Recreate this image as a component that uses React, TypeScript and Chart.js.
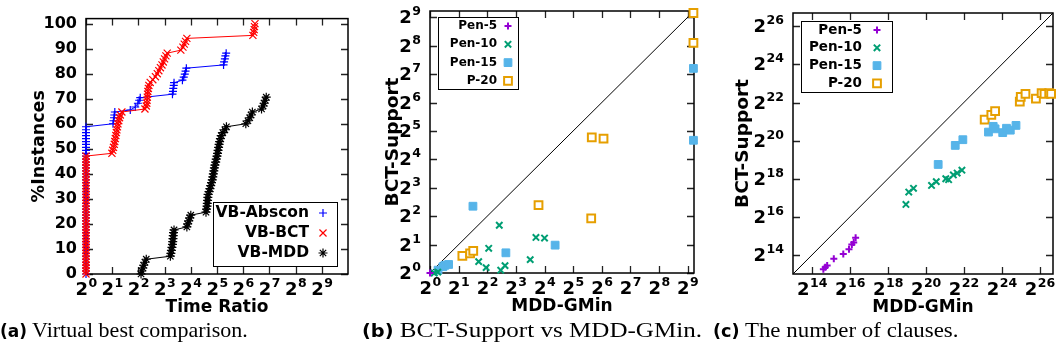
import React, { useEffect, useRef } from 'react';
import { Chart, registerables } from 'chart.js';
import { drawPoint } from 'chart.js/helpers';

Chart.register(...registerables);

// ---------- DATA (exponents are log2 values) ----------
// Panel (a): x = log2(time ratio), y = % instances
const vbAbscon: [number, number][] = [
  [0, 0], [0, 1.2], [0, 2.4], [0, 3.5], [0, 4.7], [0, 5.9], [0, 7.1], [0, 8.2], [0, 9.4], [0, 10.6],
  [0, 11.8], [0, 12.9], [0, 14.1], [0, 15.3], [0, 16.5], [0, 17.6], [0, 18.8], [0, 20], [0, 21.2], [0, 22.4],
  [0, 23.5], [0, 24.7], [0, 25.9], [0, 27.1], [0, 28.2], [0, 29.4], [0, 30.6], [0, 31.8], [0, 32.9], [0, 34.1],
  [0, 35.3], [0, 36.5], [0, 37.6], [0, 38.8], [0, 40], [0, 41.2], [0, 42.4], [0, 43.5], [0, 44.7], [0, 45.9],
  [0, 47.1], [0, 48.2], [0, 49.4], [0, 50.6], [0, 51.8], [0, 52.9], [0, 54.1], [0, 55.3], [0, 56.5], [0, 57.6],
  [0, 58.8], [1.03, 60.0], [1.05, 61.2], [1.07, 62.4], [1.08, 63.5], [1.1, 64.7], [1.69, 65.5], [1.88, 66.7],
  [1.98, 68.2], [2.03, 69.4], [2.07, 70.4], [3.3, 71.8], [3.32, 72.9], [3.33, 74.1], [3.35, 75.3], [3.36, 76.4],
  [3.68, 77.4], [3.73, 78.6], [3.77, 79.8], [3.8, 81.0], [3.83, 82.2], [5.25, 83.5], [5.27, 84.7], [5.3, 85.9],
  [5.32, 87.1], [5.35, 88.2],
];
const vbBct: [number, number][] = [
  [0, 0], [0, 1.2], [0, 2.4], [0, 3.5], [0, 4.7], [0, 5.9], [0, 7.1], [0, 8.2], [0, 9.4], [0, 10.6],
  [0, 11.8], [0, 12.9], [0, 14.1], [0, 15.3], [0, 16.5], [0, 17.6], [0, 18.8], [0, 20], [0, 21.2], [0, 22.4],
  [0, 23.5], [0, 24.7], [0, 25.9], [0, 27.1], [0, 28.2], [0, 29.4], [0, 30.6], [0, 31.8], [0, 32.9], [0, 34.1],
  [0, 35.3], [0, 36.5], [0, 37.6], [0, 38.8], [0, 40], [0, 41.2], [0, 42.4], [0, 43.5], [0, 44.7], [0, 45.9],
  [0, 47.1], [0.99, 48.2], [1.02, 49.4], [1.05, 50.6], [1.08, 51.8], [1.1, 52.9], [1.12, 54.1], [1.14, 55.3],
  [1.16, 56.5], [1.18, 57.6], [1.2, 58.8], [1.22, 60], [1.25, 61.2], [1.28, 62.4], [1.31, 63.5], [1.37, 64.7],
  [2.25, 65.9], [2.3, 67.1], [2.32, 68.2], [2.33, 69.4], [2.34, 70.6], [2.35, 71.8], [2.36, 72.9], [2.38, 74.1],
  [2.4, 75.3], [2.45, 76.5], [2.55, 77.6], [2.65, 78.8], [2.72, 80], [2.78, 81.2], [2.84, 82.4], [2.9, 83.5],
  [2.95, 84.7], [3.0, 85.9], [3.05, 87.1], [3.1, 88.2], [3.62, 89.4], [3.7, 90.6], [3.75, 91.8], [3.8, 92.9],
  [3.85, 94.1], [6.37, 95.3], [6.4, 96.5], [6.42, 97.6], [6.43, 98.8], [6.45, 100],
];
const vbMdd: [number, number][] = [
  [2.1, 0], [2.13, 1.2], [2.17, 2.4], [2.2, 3.5], [2.25, 4.7], [2.3, 5.9], [3.22, 7.1], [3.24, 8.2], [3.26, 9.4],
  [3.28, 10.6], [3.3, 11.8], [3.31, 12.9], [3.32, 14.1], [3.33, 15.3], [3.34, 16.5], [3.36, 17.6], [3.85, 18.8],
  [3.88, 20], [3.92, 21.2], [3.96, 22.4], [4.0, 23.5], [4.58, 24.7], [4.6, 25.9], [4.62, 27.1], [4.63, 28.2],
  [4.64, 29.4], [4.65, 30.6], [4.66, 31.8], [4.7, 32.9], [4.73, 34.1], [4.76, 35.3], [4.79, 36.5], [4.82, 37.6],
  [4.84, 38.8], [4.86, 40], [4.88, 41.2], [4.9, 42.4], [4.92, 43.5], [4.95, 44.7], [4.97, 45.9], [5.0, 47.1],
  [5.02, 48.2], [5.04, 49.4], [5.06, 50.6], [5.08, 51.8], [5.1, 52.9], [5.13, 54.1], [5.16, 55.3], [5.22, 56.5],
  [5.3, 57.6], [5.36, 58.8], [6.1, 60], [6.18, 61.2], [6.25, 62.4], [6.3, 63.5], [6.35, 64.7], [6.7, 65.9],
  [6.76, 67.1], [6.8, 68.2], [6.84, 69.4], [6.88, 70.6],
];

// Panel (b): log2(MDD-GMin time) vs log2(BCT-Support time)
const gminPen5: [number, number][] = [[0, 0]];
const gminPen10: [number, number][] = [
  [0.15, 0.0], [0.27, 0.03], [1.7, 0.4], [1.96, 0.19], [2.05, 0.87], [2.42, 1.68], [2.47, 0.1], [2.62, 0.26],
  [3.5, 0.47], [3.7, 1.25], [4.0, 1.23],
];
const gminPen15: [number, number][] = [
  [0.28, 0.1], [0.45, 0.22], [0.52, 0.27], [0.65, 0.3], [1.5, 2.35], [2.65, 0.71], [4.37, 0.98], [9.2, 7.2], [9.2, 4.67],
];
const gminP20: [number, number][] = [
  [1.13, 0.6], [1.4, 0.69], [1.51, 0.78], [3.79, 2.39], [5.65, 4.77], [6.06, 4.73], [5.63, 1.92], [9.2, 9.15], [9.2, 8.1],
];

// Panel (c): log2(#clauses MDD-GMin) vs log2(#clauses BCT-Support)
const clausePen5: [number, number][] = [
  [14.6, 13.25], [14.7, 13.35], [14.8, 13.45], [15.15, 13.8], [15.65, 14.05], [15.95, 14.3], [16.1, 14.55],
  [16.2, 14.65], [16.3, 14.9],
];
const clausePen10: [number, number][] = [
  [18.95, 16.65], [19.1, 17.3], [19.35, 17.5], [20.3, 17.65], [20.55, 17.85], [21.05, 18.0], [21.2, 17.95],
  [21.45, 18.2], [21.65, 18.3], [21.9, 18.45],
];
const clausePen15: [number, number][] = [
  [20.65, 18.75], [21.55, 19.75], [21.95, 20.05], [23.3, 20.45], [23.55, 20.75], [23.65, 20.62], [24.05, 20.42],
  [24.25, 20.65], [24.45, 20.55], [24.75, 20.8],
];
const clauseP20: [number, number][] = [
  [23.1, 21.1], [23.45, 21.35], [23.65, 21.55], [24.95, 22.05], [25.0, 22.3], [25.25, 22.45], [25.8, 22.2],
  [26.1, 22.5], [26.25, 22.45], [26.5, 22.5], [26.6, 22.45],
];

// Tick values (exponents of 2, or percentages)
const timeRatioTicks = [0, 1, 2, 3, 4, 5, 6, 7, 8, 9];
const percentTicks = [0, 10, 20, 30, 40, 50, 60, 70, 80, 90, 100];
const gminTicks = [0, 1, 2, 3, 4, 5, 6, 7, 8, 9];
const clauseTicks = [14, 16, 18, 20, 22, 24, 26];

const gminRange = [0, 9.22];
const clauseRange = [13, 26.7];

// ---------- helpers ----------
const toPts = (arr: [number, number][]) => arr.map(([x, y]) => ({ x, y }));
const FAMILY = '"DejaVu Sans", sans-serif';

const framePlugin = {
  id: 'frame',
  beforeDatasetsDraw(chart: any) {
    const { ctx, chartArea: a, scales } = chart;
    const len = 7;
    ctx.save();
    ctx.strokeStyle = '#222';
    ctx.lineWidth = 1.3;
    ctx.beginPath();
    scales.x.ticks.forEach((t: any) => {
      const px = Math.round(scales.x.getPixelForValue(t.value)) + 0.5;
      ctx.moveTo(px, a.bottom);
      ctx.lineTo(px, a.bottom - len);
      ctx.moveTo(px, a.top);
      ctx.lineTo(px, a.top + len);
    });
    scales.y.ticks.forEach((t: any) => {
      const py = Math.round(scales.y.getPixelForValue(t.value)) + 0.5;
      ctx.moveTo(a.left, py);
      ctx.lineTo(a.left + len, py);
      ctx.moveTo(a.right, py);
      ctx.lineTo(a.right - len, py);
    });
    ctx.stroke();
    ctx.strokeStyle = '#000';
    ctx.lineWidth = 1.5;
    ctx.strokeRect(a.left, a.top, a.width, a.height);
    ctx.restore();
  },
};

// Tick labels of the form 2^n, drawn as base "2" plus a raised exponent
const supTickPlugin = {
  id: 'supTicks',
  afterDraw(chart: any, _args: any, opts: any) {
    if (!opts || !opts.axes) return;
    const { ctx, chartArea: a, scales } = chart;
    const baseFont = `bold ${opts.base}px ${FAMILY}`;
    const supFont = `bold ${opts.sup}px ${FAMILY}`;
    ctx.save();
    ctx.fillStyle = '#000';
    ctx.textBaseline = 'alphabetic';
    ctx.textAlign = 'left';
    const widths = (e: string) => {
      ctx.font = baseFont;
      const w1 = ctx.measureText('2').width;
      ctx.font = supFont;
      const w2 = ctx.measureText(e).width;
      return [w1, w2];
    };
    const draw = (e: string, left: number, baseY: number, w1: number) => {
      ctx.font = baseFont;
      ctx.fillText('2', left, baseY);
      ctx.font = supFont;
      ctx.fillText(e, left + w1 + 0.5, baseY - opts.raise);
    };
    if (opts.axes.includes('x')) {
      scales.x.ticks.forEach((t: any) => {
        const e = String(t.value);
        const [w1, w2] = widths(e);
        const px = scales.x.getPixelForValue(t.value);
        draw(e, px - (w1 + w2) / 2, a.bottom + opts.xBase, w1);
      });
    }
    if (opts.axes.includes('y')) {
      scales.y.ticks.forEach((t: any) => {
        const e = String(t.value);
        const [w1, w2] = widths(e);
        const py = scales.y.getPixelForValue(t.value);
        draw(e, a.left - opts.yGap - (w1 + w2 + 0.5), py + opts.yBase, w1);
      });
    }
    ctx.restore();
  },
};

const boxLegendPlugin = {
  id: 'boxLegend',
  afterDraw(chart: any, _args: any, opts: any) {
    if (!opts || !opts.box) return;
    const ctx = chart.ctx;
    const [bx, by, bw, bh] = opts.box;
    ctx.save();
    ctx.fillStyle = '#fff';
    ctx.fillRect(bx, by, bw, bh);
    ctx.strokeStyle = '#000';
    ctx.lineWidth = 1;
    ctx.strokeRect(bx + 0.5, by + 0.5, bw, bh);
    ctx.font = opts.font;
    ctx.textAlign = 'right';
    ctx.textBaseline = 'middle';
    opts.items.forEach((di: number, i: number) => {
      const ds = chart.data.datasets[di];
      const y = opts.firstRow + i * opts.rowH;
      ctx.fillStyle = '#000';
      ctx.fillText(ds.label, opts.textRight, y);
      ctx.fillStyle = ds.pointBackgroundColor;
      ctx.strokeStyle = ds.pointBorderColor;
      ctx.lineWidth = ds.pointBorderWidth;
      drawPoint(ctx, { pointStyle: ds.pointStyle, radius: ds.pointRadius, borderWidth: ds.pointBorderWidth, rotation: 0 } as any, opts.markerX, y);
    });
    ctx.restore();
  },
};

function series(label: string, data: [number, number][], color: string, style: string, radius: number, bw: number, extra: any = {}) {
  return {
    label,
    data: toPts(data),
    pointStyle: style,
    pointRadius: radius,
    pointBorderWidth: bw,
    pointBorderColor: color,
    pointBackgroundColor: color,
    borderColor: color,
    backgroundColor: color,
    showLine: false,
    clip: false,
    ...extra,
  };
}

function axis(opts: {
  min: number; max: number; ticks: number[]; title: string; showLabels: boolean;
  pad: number; titlePad: any; fit: (s: any) => void; tickFont: number; titleFont: number;
}) {
  return {
    type: 'linear',
    min: opts.min,
    max: opts.max,
    afterBuildTicks: (s: any) => {
      s.ticks = opts.ticks.map((v) => ({ value: v }));
    },
    afterFit: opts.fit,
    ticks: {
      display: opts.showLabels,
      callback: (v: any) => String(v),
      font: { family: FAMILY, weight: 'bold', size: opts.tickFont },
      color: '#000',
      padding: opts.pad,
      maxRotation: 0,
      autoSkip: false,
    },
    grid: { display: false, drawTicks: false },
    border: { display: false },
    title: {
      display: true,
      text: opts.title,
      color: '#000',
      font: { family: FAMILY, weight: 'bold', size: opts.titleFont },
      padding: opts.titlePad,
    },
  };
}

function ChartCanvas({ config, width, height, left }: { config: any; width: number; height: number; left: number }) {
  const ref = useRef<HTMLCanvasElement>(null);
  useEffect(() => {
    if (!ref.current) return;
    const chart = new Chart(ref.current, config);
    return () => chart.destroy();
  }, []);
  return (
    <canvas
      ref={ref}
      width={width}
      height={height}
      style={{ position: 'absolute', left, top: 0, width, height }}
    />
  );
}

const baseOptions = {
  animation: false,
  responsive: false,
  devicePixelRatio: 1,
  events: [],
};

const supOpts = { base: 18, sup: 12.5, raise: 8, xBase: 21, yGap: 9, yBase: 6 };

const configA = {
  type: 'scatter',
  data: {
    datasets: [
      series('VB-Abscon', vbAbscon, '#0000ff', 'cross', 4, 1.2, { showLine: true, borderWidth: 1, order: 2 }),
      series('VB-BCT', vbBct, '#ff0000', 'crossRot', 5, 1.2, { showLine: true, borderWidth: 1, order: 1 }),
      series('VB-MDD', vbMdd, '#000000', 'star', 4.5, 1.2, { showLine: true, borderWidth: 1, order: 0 }),
    ],
  },
  options: {
    ...baseOptions,
    layout: { padding: { left: 0, top: 13, right: 12, bottom: 2 } },
    plugins: {
      legend: { display: false },
      tooltip: { enabled: false },
      supTicks: { ...supOpts, axes: ['x'] },
      boxLegend: {
        box: [213, 202, 124, 64], textRight: 309, markerX: 323, firstRow: 213, rowH: 20,
        font: `bold 15.5px ${FAMILY}`, items: [0, 1, 2],
      },
    },
    scales: {
      x: axis({
        min: 0, max: 10, ticks: timeRatioTicks, title: 'Time Ratio', showLabels: false, pad: 4,
        titlePad: { top: 0, bottom: 0 }, fit: (s: any) => { s.height = 44; }, tickFont: 16, titleFont: 17,
      }),
      y: axis({
        min: 0, max: 102, ticks: percentTicks, title: '%Instances', showLabels: true, pad: 9,
        titlePad: { top: 29, bottom: 0 }, fit: (s: any) => { s.width = 86; }, tickFont: 16, titleFont: 17.5,
      }),
    },
  },
  plugins: [framePlugin, supTickPlugin, boxLegendPlugin],
};

function scatterConfig(
  d5: [number, number][], d10: [number, number][], d15: [number, number][], d20: [number, number][],
  range: number[], ticks: number[], yAxisWidth: number, pad: any, legend: any, titleTop: number,
) {
  return {
    type: 'scatter',
    data: {
      datasets: [
        series('Pen-5', d5, '#9400d3', 'cross', 3.5, 2),
        series('Pen-10', d10, '#009e73', 'crossRot', 4.5, 2),
        series('Pen-15', d15, '#56b4e9', 'rect', 5.5, 1),
        series('P-20', d20, '#e69f00', 'rect', 5.5, 2, { pointBackgroundColor: '#ffffff' }),
        {
          label: 'diag',
          data: [{ x: range[0], y: range[0] }, { x: range[1], y: range[1] }],
          showLine: true,
          borderColor: '#000',
          borderWidth: 1,
          pointRadius: 0,
          order: 10,
        },
      ],
    },
    options: {
      ...baseOptions,
      layout: { padding: pad },
      plugins: {
        legend: { display: false },
        tooltip: { enabled: false },
        supTicks: { ...supOpts, axes: ['x', 'y'] },
        boxLegend: legend,
      },
      scales: {
        x: axis({
          min: range[0], max: range[1], ticks, title: 'MDD-GMin', showLabels: false, pad: 4,
          titlePad: { top: 0, bottom: 0 }, fit: (s: any) => { s.height = 44; }, tickFont: 16, titleFont: 17,
        }),
        y: axis({
          min: range[0], max: range[1], ticks, title: 'BCT-Support', showLabels: false, pad: 9,
          titlePad: { top: titleTop, bottom: 0 }, fit: (s: any) => { s.width = yAxisWidth; }, tickFont: 16, titleFont: 18.5,
        }),
      },
    },
    plugins: [framePlugin, supTickPlugin, boxLegendPlugin],
  };
}

const configB = scatterConfig(
  gminPen5, gminPen10, gminPen15, gminP20, gminRange, gminTicks, 70,
  { left: 0, top: 11, right: 11, bottom: 3 },
  { box: [78, 17, 80, 72], textRight: 137, markerX: 148, firstRow: 26, rowH: 18.3, font: `bold 12px ${FAMILY}`, items: [0, 1, 2, 3] },
  22,
);
const configC = scatterConfig(
  clausePen5, clausePen10, clausePen15, clauseP20, clauseRange, clauseTicks, 83,
  { left: 0, top: 13, right: 9, bottom: 2 },
  { box: [91, 21, 91, 71], textRight: 152, markerX: 167, firstRow: 30, rowH: 17.8, font: `bold 13.5px ${FAMILY}`, items: [0, 1, 2, 3] },
  22,
);

const capStyle: React.CSSProperties = {
  position: 'absolute',
  top: 318,
  fontFamily: '"Liberation Serif", serif',
  fontSize: 22,
  lineHeight: '24px',
  whiteSpace: 'nowrap',
  color: '#000',
  transformOrigin: 'left center',
};
const capLabel: React.CSSProperties = { fontFamily: '"DejaVu Sans", sans-serif', fontWeight: 'bold', fontSize: 17 };

export default function App() {
  return (
    <div style={{ position: 'absolute', left: 0, top: 0, width: 1062, height: 358, background: '#fff', overflow: 'hidden' }}>
      <ChartCanvas config={configA} width={360} height={320} left={0} />
      <ChartCanvas config={configB} width={345} height={320} left={360} />
      <ChartCanvas config={configC} width={352} height={320} left={710} />
      <div style={{ ...capStyle, left: 0 }}><span style={capLabel}>(a)</span> Virtual best comparison.</div>
      <div style={{ ...capStyle, left: 362, transform: 'scaleX(1.14)' }}><span style={capLabel}>(b)</span> BCT-Support vs MDD-GMin.</div>
      <div style={{ ...capStyle, left: 713, transform: 'scaleX(1.04)' }}><span style={capLabel}>(c)</span> The number of clauses.</div>
    </div>
  );
}
